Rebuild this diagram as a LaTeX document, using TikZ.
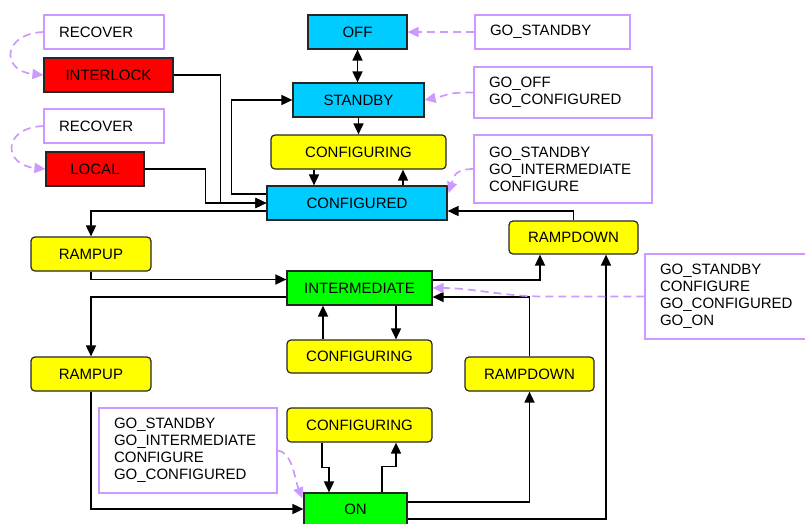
\documentclass[tikz,border=0pt]{standalone}
\usepackage{fontspec}
\setmainfont{Liberation Sans}
\usepackage{xcolor}
\usepackage{tikz}
\usetikzlibrary{arrows.meta,calc,positioning}

\definecolor{stcyan}{RGB}{0,204,255}
\definecolor{styellow}{RGB}{255,255,0}
\definecolor{stgreen}{RGB}{0,255,0}
\definecolor{stred}{RGB}{255,0,0}
\definecolor{cmdviolet}{RGB}{204,153,255}

\tikzset{
  statebox/.style={draw=black!85, line width=1.2pt, inner sep=0pt, minimum height=34pt,
    font=\fontsize{15}{17}\selectfont},
  transbox/.style={statebox, fill=styellow, rounded corners=4pt},
  cmdbox/.style={draw=cmdviolet, line width=1.3pt, inner xsep=15pt, inner ysep=0pt,
    align=left, font=\fontsize{15}{17}\selectfont},
  tip/.tip={Triangle[length=11pt,width=10pt]},
  flow/.style={line width=1.7pt, -tip},
  cmdarrow/.style={draw=cmdviolet, line width=1.7pt, dash pattern=on 8pt off 5pt, -tip}
}

\begin{document}
\begin{tikzpicture}[x=1pt,y=1pt,yscale=-1,xscale=1]
\useasboundingbox (0,0) rectangle (805,523);
\clip (0,0) rectangle (805,523);

%States
\node[statebox, fill=stcyan, minimum width=99pt] (off) at (357.5,32) {OFF};
\node[statebox, fill=stcyan, minimum width=131pt] (standby) at (358.5,100) {STANDBY};
\node[transbox, minimum width=175pt] (cfgA) at (358.5,152) {CONFIGURING};
\node[statebox, fill=stcyan, minimum width=180pt] (configured) at (357,203) {CONFIGURED};
\node[statebox, fill=stred, minimum width=129pt] (interlock) at (108.5,75) {INTERLOCK};
\node[statebox, fill=stred, minimum width=98pt] (local) at (95,169) {LOCAL};
\node[transbox, minimum width=129pt, minimum height=33pt] (rampdownA) at (573.5,237.5) {RAMPDOWN};
\node[transbox, minimum width=120pt] (rampupA) at (91,254) {RAMPUP};
\node[statebox, fill=stgreen, minimum width=145pt] (intermediate) at (359.5,288) {INTERMEDIATE};
\node[transbox, minimum width=145pt, minimum height=33pt] (cfgB) at (359.5,356.5) {CONFIGURING};
\node[transbox, minimum width=120pt] (rampupB) at (91,374) {RAMPUP};
\node[transbox, minimum width=129pt] (rampdownB) at (529.5,374) {RAMPDOWN};
\node[transbox, minimum width=145pt] (cfgC) at (359.5,425) {CONFIGURING};
\node[statebox, fill=stgreen, minimum width=103pt, minimum height=32pt] (on) at (355.5,509) {ON};

%Commands
\node[cmdbox, text width=90pt, minimum height=34pt] (recA) at (104,32) {RECOVER};
\node[cmdbox, text width=90pt, minimum height=34pt] (recB) at (104,126) {RECOVER};
\node[cmdbox, text width=125pt, minimum height=34pt] (cmdOff) at (552.5,32) {GO\_STANDBY};
\node[cmdbox, text width=148pt, minimum height=51pt] (cmdStandby) at (563,92.5) {GO\_OFF\\GO\_CONFIGURED};
\node[cmdbox, text width=148pt, minimum height=68pt] (cmdConfigured) at (563,169) {GO\_STANDBY\\GO\_INTERMEDIATE\\CONFIGURE};
\node[cmdbox, text width=140pt, minimum height=85pt] (cmdInter) at (730,296.5) {GO\_STANDBY\\CONFIGURE\\GO\_CONFIGURED\\GO\_ON};
\node[cmdbox, text width=148pt, minimum height=85pt] (cmdOn) at (188,450.5) {GO\_STANDBY\\GO\_INTERMEDIATE\\CONFIGURE\\GO\_CONFIGURED};

%Transitions
\draw[flow, tip-tip] (off.south) -- (off.south |- standby.north);
\draw[flow] (standby.south) -- (cfgA.north);
\draw[flow] ($(cfgA.south)+(-44.5,0)$) -- ($(configured.north)+(-43,0)$);
\draw[flow] ($(configured.north)+(46,0)$) -- ($(cfgA.south)+(44.5,0)$);
\draw[flow] ($(configured.west)+(0,-9)$) -- ++(-35,0) |- (standby.west);
\draw[flow] (interlock.east) -- ++(47,0) |- (configured.west);
\draw[flow] (local.east) -- ++(61,0) |- (configured.west);
\draw[flow] ($(configured.west)+(0,8)$) -| (rampupA.north);
\draw[flow] (rampdownA.north) |- ($(configured.east)+(0,8)$);
\draw[flow] (rampupA.south) |- ($(intermediate.west)+(0,-8.5)$);
\draw[flow] ($(intermediate.west)+(0,9)$) -| (rampupB.north);
\draw[flow] ($(intermediate.east)+(0,-8)$) -| ($(rampdownA.south)+(-33.5,0)$);
\draw[flow] (rampdownB.north) |- ($(intermediate.east)+(0,9)$);
\draw[flow] ($(cfgB.north)+(-36.5,0)$) -- ($(intermediate.south)+(-36.5,0)$);
\draw[flow] ($(intermediate.south)+(36.5,0)$) -- ($(cfgB.north)+(36.5,0)$);
\draw[flow] (rampupB.south) |- (on.west);
\draw[flow] ($(cfgC.south)+(-37.5,0)$) -- ++(0,25) -| ($(on.north)+(-26.5,0)$);
\draw[flow] ($(on.north)+(26.5,0)$) -- ++(0,-26) -| ($(cfgC.south)+(36.5,0)$);
\draw[flow] ($(on.east)+(0,-7)$) -| (rampdownB.south);
\draw[flow] ($(on.east)+(0,10)$) -| ($(rampdownA.south)+(32.5,0)$);

%Command arrows
\draw[cmdarrow] (recA.west) .. controls +(-42,2) and +(-42,-4) .. (interlock.west);
\draw[cmdarrow] (recB.west) .. controls +(-42,2) and +(-42,-4) .. (local.west);
\draw[cmdarrow] (cmdOff.west) -- (off.east);
\draw[cmdarrow] (cmdStandby.west) .. controls +(-30,0) and +(25,-5) .. (standby.east);
\draw[cmdarrow] (cmdConfigured.west) .. controls +(-20,0) and +(5,-15) .. ($(configured.east)+(1,-10)$);
\draw[cmdarrow] (cmdInter.west) -- ++(-100,0) .. controls +(-40,0) and +(40,0) .. (intermediate.east);
\draw[cmdarrow] (cmdOn.east) .. controls +(15,2) and +(-8,-20) .. ($(on.north west)+(-1,6)$);

\end{tikzpicture}
\end{document}
